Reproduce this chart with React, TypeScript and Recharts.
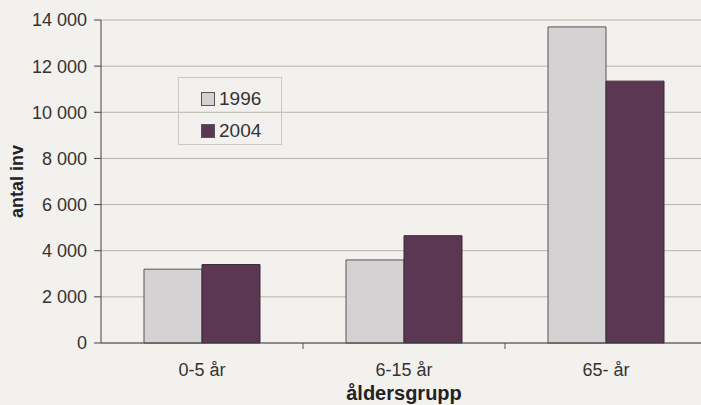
import { Bar, BarChart, CartesianGrid, XAxis, YAxis } from "recharts"

const categories = ["0-5 år", "6-15 år", "65- år"]
const values1996 = [3200, 3600, 13700]
const values2004 = [3400, 4650, 11350]
const yTicks = [0, 2000, 4000, 6000, 8000, 10000, 12000, 14000]
const seriesNames = ["1996", "2004"]

const COLORS = { y1996: "#d4d2d3", y2004: "#5b3753", bg: "#f3f1ee" }
const FONT = "'Liberation Sans', Arial, sans-serif"

const data = categories.map((c, i) => ({
  group: c,
  y1996: values1996[i],
  y2004: values2004[i],
}))

const fmt = (v: number) => (v >= 1000 ? `${Math.floor(v / 1000)} ${String(v % 1000).padStart(3, "0")}` : `${v}`)

function GroupTick({ x, y, payload, index }: any) {
  const half = payload?.offset ?? 0
  return (
    <g>
      <text x={x} y={y + 33} textAnchor="middle" fontSize={18} fill="#333" fontFamily={FONT}>
        {payload.value}
      </text>
      {index < categories.length - 1 && half > 0 ? (
        <line x1={x + half} x2={x + half} y1={y} y2={y + 6} stroke="#555" />
      ) : null}
    </g>
  )
}

export default function App() {
  return (
    <div
      style={{
        position: "absolute",
        left: 0,
        top: 0,
        width: 701,
        height: 405,
        overflow: "hidden",
        background: COLORS.bg,
        fontFamily: FONT,
      }}
    >
      <BarChart
        width={710}
        height={405}
        data={data}
        margin={{ top: 20, right: 3, left: 0, bottom: 0 }}
        barGap={0}
        barSize={58}
      >
        <CartesianGrid vertical={false} stroke="#b5b5ad" />
        <XAxis
          dataKey="group"
          height={62}
          tickSize={0}
          tickMargin={0}
          tick={<GroupTick />}
          axisLine={{ stroke: "#444" }}
          label={{
            value: "åldersgrupp",
            position: "insideBottom",
            offset: 5,
            style: { fontSize: 20, fontWeight: 700, fill: "#222", fontFamily: FONT },
          }}
        />
        <YAxis
          width={101}
          domain={[0, 14000]}
          ticks={yTicks}
          tickFormatter={fmt}
          tickSize={7}
          tickMargin={7}
          axisLine={{ stroke: "#444" }}
          tickLine={{ stroke: "#444" }}
          tick={{ fontSize: 18, fill: "#333", fontFamily: FONT }}
          label={{
            value: "antal inv",
            angle: -90,
            position: "insideLeft",
            offset: 17,
            style: { textAnchor: "middle", fontSize: 18, fontWeight: 700, fill: "#222", fontFamily: FONT },
          }}
        />
        <Bar dataKey="y1996" name={seriesNames[0]} fill={COLORS.y1996} stroke="#555" isAnimationActive={false} />
        <Bar dataKey="y2004" name={seriesNames[1]} fill={COLORS.y2004} stroke="#3a2a36" isAnimationActive={false} />
      </BarChart>
      <div
        style={{
          position: "absolute",
          left: 178,
          top: 77,
          width: 104,
          height: 68,
          boxSizing: "border-box",
          border: "1px solid #c9c9c4",
          padding: "8px 0 0 22px",
          fontSize: 19,
          color: "#333",
        }}
      >
        {seriesNames.map((n, i) => (
          <div key={n} style={{ display: "flex", alignItems: "center", height: 26, marginBottom: i === 0 ? 6 : 0 }}>
            <span
              style={{
                display: "inline-block",
                width: 12,
                height: 12,
                marginRight: 4,
                background: i === 0 ? COLORS.y1996 : COLORS.y2004,
                border: "1px solid #555",
              }}
            />
            {n}
          </div>
        ))}
      </div>
    </div>
  )
}
